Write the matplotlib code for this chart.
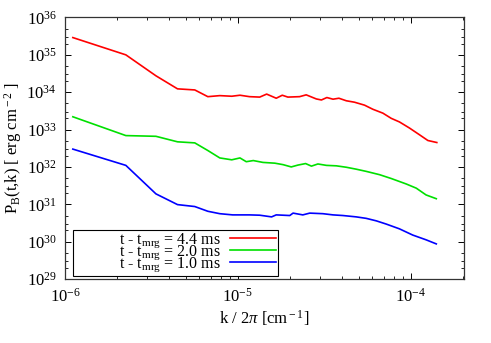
import matplotlib
matplotlib.use("Agg")
import matplotlib.pyplot as plt
from matplotlib.ticker import LogLocator
from matplotlib.legend_handler import HandlerLine2D
from matplotlib.lines import Line2D

plt.rcParams['font.family'] = ['Liberation Serif', 'DejaVu Serif']
plt.rcParams['mathtext.fontset'] = 'custom'
plt.rcParams['mathtext.rm'] = 'Liberation Serif'
plt.rcParams['mathtext.it'] = 'Liberation Serif:italic'
plt.rcParams['mathtext.bf'] = 'Liberation Serif:bold'
plt.rcParams['axes.unicode_minus'] = False

labels = [r"t - t$_{\rm mrg}$ = 4.4 ms", r"t - t$_{\rm mrg}$ = 2.0 ms", r"t - t$_{\rm mrg}$ = 1.0 ms"]
colors = ["#ff0000", "#00e000", "#0000ff"]

k_red = [1.11e-6, 2.25e-6, 3.36e-6, 4.48e-6, 5.64e-6, 6.71e-6, 7.87e-6, 9.23e-6, 1.03e-5, 1.17e-5,
         1.34e-5, 1.47e-5, 1.67e-5, 1.81e-5, 1.95e-5, 2.28e-5, 2.49e-5, 2.85e-5, 3.05e-5, 3.28e-5,
         3.56e-5, 3.85e-5, 4.25e-5, 4.74e-5, 5.42e-5, 6.05e-5, 6.92e-5, 7.73e-5, 8.63e-5, 9.86e-5,
         1.13e-4, 1.26e-4, 1.42e-4]
P_red = [2.9e35, 1.0e35, 2.75e34, 1.23e34, 1.15e34, 7.6e33, 8.1e33, 7.8e33, 8.3e33, 7.6e33,
         7.4e33, 8.9e33, 6.9e33, 8.3e33, 7.4e33, 7.6e33, 8.5e33, 6.6e33, 6.2e33, 7.2e33,
         6.5e33, 6.9e33, 5.9e33, 5.4e33, 4.5e33, 3.5e33, 2.75e33, 2.0e33, 1.6e33, 1.1e33,
         7.2e32, 5.1e32, 4.5e32]

k_green = [1.11e-6, 2.25e-6, 3.36e-6, 4.48e-6, 5.64e-6, 6.71e-6, 7.87e-6, 9.23e-6, 1.03e-5, 1.12e-5,
           1.23e-5, 1.40e-5, 1.64e-5, 1.83e-5, 2.04e-5, 2.23e-5, 2.47e-5, 2.67e-5, 2.91e-5, 3.26e-5,
           3.72e-5, 4.25e-5, 4.85e-5, 5.54e-5, 6.62e-5, 7.73e-5, 9.44e-5, 1.08e-4, 1.23e-4, 1.41e-4]
P_green = [2.2e33, 6.9e32, 6.6e32, 4.7e32, 4.4e32, 2.75e32, 1.74e32, 1.55e32, 1.74e32, 1.38e32,
           1.48e32, 1.32e32, 1.26e32, 1.15e32, 1.0e32, 1.12e32, 1.23e32, 1.05e32, 1.2e32, 1.1e32,
           1.07e32, 9.8e31, 8.7e31, 7.6e31, 6.2e31, 4.9e31, 3.5e31, 2.7e31, 1.78e31, 1.41e31]

k_blue = [1.11e-6, 2.25e-6, 3.36e-6, 4.48e-6, 5.64e-6, 6.71e-6, 7.87e-6, 9.34e-6, 1.17e-5, 1.34e-5,
          1.57e-5, 1.67e-5, 2.0e-5, 2.09e-5, 2.38e-5, 2.61e-5, 3.11e-5, 3.56e-5, 4.06e-5, 4.85e-5,
          5.54e-5, 6.34e-5, 7.24e-5, 8.63e-5, 1.03e-4, 1.23e-4, 1.41e-4]
P_blue = [3.0e32, 1.1e32, 1.9e31, 9.8e30, 8.7e30, 6.5e30, 5.6e30, 5.2e30, 5.2e30, 5.1e30,
          4.6e30, 5.2e30, 5.0e30, 5.8e30, 5.2e30, 5.8e30, 5.6e30, 5.2e30, 5.0e30, 4.6e30,
          4.2e30, 3.6e30, 2.95e30, 2.2e30, 1.5e30, 1.12e30, 8.7e29]

fig = plt.figure(figsize=(4.91, 3.43), dpi=100)
ax = fig.add_axes([0.1324, 0.1866, 0.8126, 0.7624])

series = [(k_red, P_red), (k_green, P_green), (k_blue, P_blue)]
for (k, P), c, lab in zip(series, colors, labels):
    ax.plot(k, P, color=c, lw=1.2, label=" " * 11 + lab)

ax.set_xscale('log')
ax.set_yscale('log')
ax.set_xlim(1e-6, 2.04e-4)
ax.set_ylim(1e29, 1e36)
ax.yaxis.set_major_locator(LogLocator(base=10, numticks=20))
ax.yaxis.set_minor_locator(LogLocator(base=10, subs=(2, 3, 5), numticks=20))

ax.tick_params(which='both', direction='in', top=True, right=True, labelsize=12, colors='black')
ax.tick_params(which='major', length=4, width=0.7, pad=6)
ax.tick_params(which='minor', length=2, width=0.6)
for s in ax.spines.values():
    s.set_linewidth(0.9)
    s.set_color('#333333')

ax.set_xlabel(r"k / 2$\pi$ [cm$^{\rm -1}$]", fontsize=12, labelpad=2)
ax.set_ylabel(r"P$_{\rm B}$(t,k) [ erg cm$^{\rm -2}$ ]", fontsize=12, labelpad=2)

leg = ax.legend(loc='lower left', bbox_to_anchor=(0.02, 0.012), markerfirst=False,
                fontsize=11.5, handlelength=3.5, labelspacing=-0.4, borderpad=0.1,
                handletextpad=0.0, fancybox=False, framealpha=1, borderaxespad=0,
                handler_map={Line2D: HandlerLine2D(xpad=0.6)})
leg.get_frame().set_edgecolor('black')
leg.get_frame().set_linewidth(0.8)

fig.savefig('out.png', dpi=100)
